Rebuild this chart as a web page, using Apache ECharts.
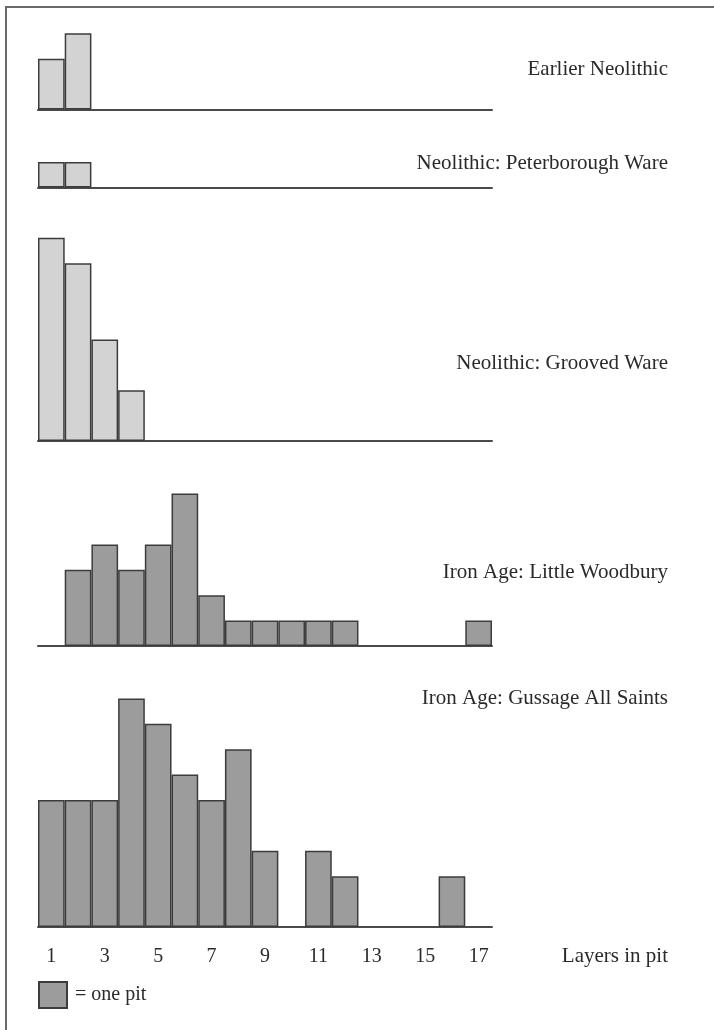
<!DOCTYPE html>
<html>
<head>
<meta charset="utf-8">
<script src="https://cdn.jsdelivr.net/npm/echarts@6/dist/echarts.min.js"></script>
<style>
  html, body { margin: 0; padding: 0; background: #fff; }
  #chart { width: 714px; height: 1030px; }
</style>
</head>
<body>
<div id="chart"></div>
<script>
// layers in pit, 1..17
let layers = ['1','2','3','4','5','6','7','8','9','10','11','12','13','14','15','16','17'];

// number of pits per layer count
let earlierNeolithic   = [2, 3, 0, 0, 0, 0, 0, 0, 0, 0, 0, 0, 0, 0, 0, 0, 0];
let peterboroughWare   = [1, 1, 0, 0, 0, 0, 0, 0, 0, 0, 0, 0, 0, 0, 0, 0, 0];
let groovedWare        = [8, 7, 4, 2, 0, 0, 0, 0, 0, 0, 0, 0, 0, 0, 0, 0, 0];
let littleWoodbury     = [0, 3, 4, 3, 4, 6, 2, 1, 1, 1, 1, 1, 0, 0, 0, 0, 1];
let gussageAllSaints   = [5, 5, 5, 9, 8, 6, 5, 7, 3, 0, 3, 2, 0, 0, 0, 2, 0];

let panelNames = ['Earlier Neolithic', 'Neolithic: Peterborough Ware', 'Neolithic: Grooved Ware',
    'Iron Age: Little Woodbury', 'Iron Age: Gussage All Saints'];

let unit = 25.4;           // px per pit
let serif = '"Liberation Serif", "DejaVu Serif", serif';
let light = '#d3d3d3', dark = '#9c9c9c', edge = '#3c3c3c';

let panels = [
    { data: earlierNeolithic, max: 3, base: 109.5, color: light, labelY: 71 },
    { data: peterboroughWare, max: 1, base: 187.5, color: light, labelY: 165 },
    { data: groovedWare,      max: 8, base: 441,   color: light, labelY: 365 },
    { data: littleWoodbury,   max: 6, base: 646,   color: dark,  labelY: 574 },
    { data: gussageAllSaints, max: 9, base: 927,   color: dark,  labelY: 700 }
];

let grid = [], xAxis = [], yAxis = [], series = [], graphic = [];

panels.forEach((p, i) => {
    let last = i === panels.length - 1;
    let h = p.max * unit;
    grid.push({ left: 38, width: 454, top: p.base - h, height: h });
    xAxis.push({
        type: 'category',
        gridIndex: i,
        data: layers,
        axisLine: { show: true, lineStyle: { color: '#4a4a4a', width: 2 } },
        axisTick: { show: false },
        axisLabel: {
            show: last,
            interval: 1,
            margin: 20,
            color: '#2a2a2a',
            fontFamily: serif,
            fontSize: 20
        },
        splitLine: { show: false }
    });
    yAxis.push({
        type: 'value',
        gridIndex: i,
        min: 0,
        max: p.max,
        show: false
    });
    series.push({
        name: last ? '= one pit' : panelNames[i],
        type: 'bar',
        xAxisIndex: i,
        yAxisIndex: i,
        barWidth: '100%',
        data: p.data.map(v => v === 0 ? null : v),
        itemStyle: { color: p.color, borderColor: edge, borderWidth: 1.5 },
        silent: true
    });
    graphic.push({
        type: 'text',
        right: 46,
        top: p.labelY - 12,
        style: {
            text: panelNames[i],
            fill: '#2a2a2a',
            font: '21px ' + serif
        }
    });
});

// x axis title
graphic.push({
    type: 'text',
    right: 46,
    top: 946,
    style: { text: 'Layers in pit', fill: '#2a2a2a', font: '21px ' + serif }
});

// page frame (top and left edge of the scanned figure)
graphic.push({
    type: 'polyline',
    shape: { points: [[6, 1030], [6, 7], [714, 7]] },
    style: { stroke: '#6a6a6a', lineWidth: 2, fill: null }
});

let option = {
    backgroundColor: '#ffffff',
    animation: false,
    grid: grid,
    xAxis: xAxis,
    yAxis: yAxis,
    series: series,
    legend: {
        data: ['= one pit'],
        left: 38,
        top: 981,
        padding: 0,
        icon: 'rect',
        itemWidth: 28,
        itemHeight: 26,
        selectedMode: false,
        textStyle: { color: '#2a2a2a', fontFamily: serif, fontSize: 20, padding: [0, 0, 0, 3] }
    },
    graphic: graphic
};

let myChart = echarts.init(document.getElementById('chart'));
myChart.setOption(option);
</script>
</body>
</html>
